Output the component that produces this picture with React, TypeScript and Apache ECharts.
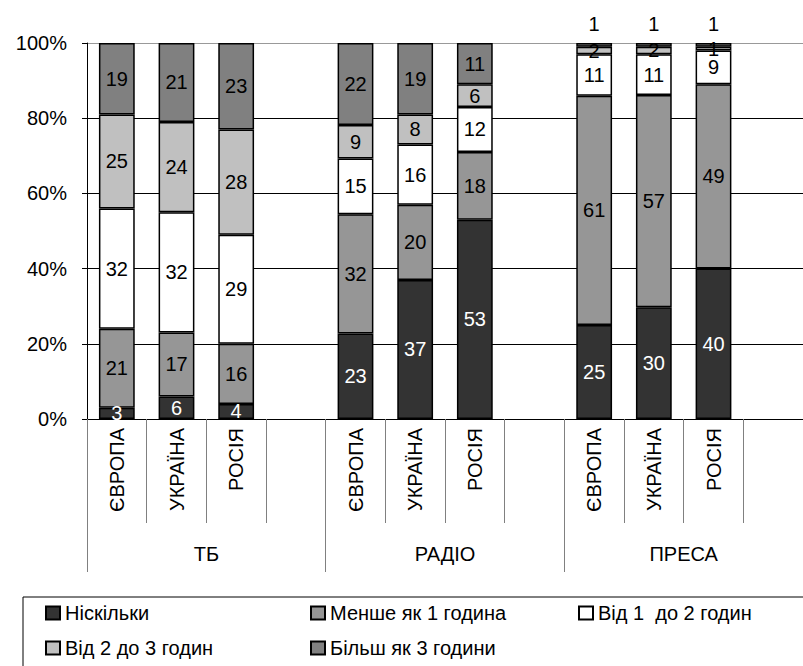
import React, { useEffect, useRef } from "react";
import * as echarts from "echarts";

// Category slots: three media groups, each with three regions and one empty spacer slot
const slots = [
  "ЄВРОПА", "УКРАЇНА", "РОСІЯ", "",
  "ЄВРОПА", "УКРАЇНА", "РОСІЯ", "",
  "ЄВРОПА", "УКРАЇНА", "РОСІЯ", "",
];
const groups = ["ТБ", "РАДІО", "ПРЕСА"];
const yTicks = [0, 20, 40, 60, 80, 100];

const seriesNames = [
  "Ніскільки",
  "Менше як 1 година",
  "Від 1  до 2 годин",
  "Від 2 до 3 годин",
  "Більш як 3 години",
];

const none = [3, 6, 4, null, 23, 37, 53, null, 25, 30, 40, null];
const lessOne = [21, 17, 16, null, 32, 20, 18, null, 61, 57, 49, null];
const oneTwo = [32, 32, 29, null, 15, 16, 12, null, 11, 11, 9, null];
const twoThree = [25, 24, 28, null, 9, 8, 6, null, 2, 2, 1, null];
const moreThree = [19, 21, 23, null, 22, 19, 11, null, 1, 1, 1, null];

const allValues = [none, lessOne, oneTwo, twoThree, moreThree];
const fills = ["#333333", "#969696", "#ffffff", "#c0c0c0", "#808080"];
const labelColors = ["#ffffff", "#000000", "#000000", "#000000", "#000000"];

// legend grid: three columns, two rows
const legendCols = [45, 310, 578, 45, 310];
const legendRows = [603, 603, 603, 638, 638];

const FONT = "Liberation Sans, Arial, sans-serif";
const FS = 20;

export default function App() {
  const ref = useRef<HTMLDivElement>(null);

  useEffect(() => {
    document.body.style.margin = "0";
    if (!ref.current) return;
    const chart = echarts.init(ref.current, null, { renderer: "svg" });

    // 100% stacking: each segment's height is its share of the slot total
    const totals = slots.map((_, i) =>
      allValues.reduce((s, arr) => s + (arr[i] ?? 0), 0)
    );

    const series = allValues.map((arr, si) => ({
      name: seriesNames[si],
      type: "bar",
      stack: "total",
      barWidth: "60%",
      itemStyle: { color: fills[si], borderColor: "#000", borderWidth: 1.5 },
      label: {
        show: true,
        position: "inside",
        color: labelColors[si],
        fontFamily: FONT,
        fontSize: FS,
        formatter: (p: any) => (p.data && p.data.raw != null ? String(p.data.raw) : ""),
      },
      data: arr.map((v, i) => {
        if (v == null) return { value: "-", raw: null };
        const item: any = { value: (v / totals[i]) * 100, raw: v };
        // the thin top segments of the press bars carry their label above the bar
        if (si === 4 && i >= 8) {
          item.label = { position: "top", distance: 9, color: "#000" };
        }
        return item;
      }),
    }));

    const legends = seriesNames.map((name, k) => ({
      left: legendCols[k],
      top: legendRows[k],
      padding: 0,
      itemWidth: 14,
      itemHeight: 13,
      icon: "rect",
      textStyle: { fontFamily: FONT, fontSize: FS, color: "#000" },
      selectedMode: false,
      data: [name],
    }));

    chart.setOption({
      animation: false,
      backgroundColor: "#fff",
      textStyle: { fontFamily: FONT },
      grid: { left: 87, top: 43, width: 787, height: 376, containLabel: false },
      legend: legends,
      xAxis: [
        {
          type: "category",
          data: slots,
          position: "bottom",
          axisLine: { show: true, lineStyle: { color: "#000", width: 1 } },
          axisTick: { show: true, length: 104, interval: 0, lineStyle: { color: "#808080" } },
          axisLabel: {
            interval: 0,
            rotate: 90,
            margin: 9,
            color: "#000",
            fontFamily: FONT,
            fontSize: FS,
          },
          splitLine: { show: false },
        },
        {
          type: "category",
          data: groups,
          position: "bottom",
          axisLine: { show: false },
          axisTick: { show: true, length: 153, interval: 0, lineStyle: { color: "#808080" } },
          axisLabel: {
            interval: 0,
            margin: 125,
            color: "#000",
            fontFamily: FONT,
            fontSize: FS,
          },
          splitLine: { show: false },
        },
      ],
      yAxis: {
        type: "value",
        min: yTicks[0],
        max: yTicks[yTicks.length - 1],
        interval: 20,
        axisLine: { show: true, lineStyle: { color: "#000" } },
        axisTick: { show: true, length: 5, lineStyle: { color: "#000" } },
        axisLabel: {
          formatter: "{value}%",
          margin: 20,
          color: "#000",
          fontFamily: FONT,
          fontSize: FS,
        },
        splitLine: {
          show: true,
          lineStyle: {
            color: ["#000", "#000", "#000", "#000", "#000", "#999"],
            width: 1,
          },
        },
      },
      graphic: [
        {
          type: "rect",
          z: -1,
          shape: { x: 23, y: 597, width: 800, height: 200 },
          style: { fill: "none", stroke: "#000", lineWidth: 1 },
        },
      ],
      series,
    });

    return () => chart.dispose();
  }, []);

  return <div ref={ref} style={{ width: 803, height: 666 }} />;
}
